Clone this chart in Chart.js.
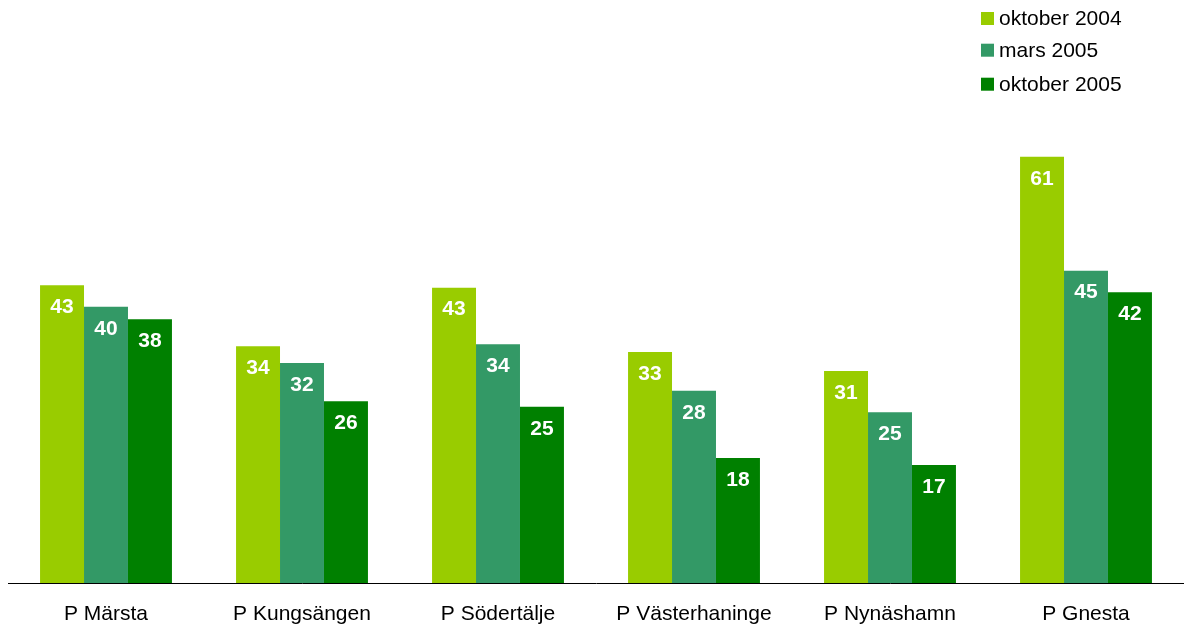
<!DOCTYPE html>
<html>
<head>
<meta charset="utf-8">
<script src="https://cdn.jsdelivr.net/npm/chart.js@4"></script>
<style>
  html, body { margin: 0; padding: 0; background: #ffffff; }
  #wrap { position: relative; width: 1184px; height: 628px; }
</style>
</head>
<body>
<div id="wrap"><canvas id="c" width="1184" height="628"></canvas></div>
<script>
const categories = ["P Märsta", "P Kungsängen", "P Södertälje", "P Västerhaninge", "P Nynäshamn", "P Gnesta"];
const seriesNames = ["oktober 2004", "mars 2005", "oktober 2005"];
const okt2004 = [42.9, 34.1, 42.55, 33.3, 30.55, 61.4];
const mars2005 = [39.8, 31.7, 34.4, 27.7, 24.6, 45.0];
const okt2005 = [38.0, 26.2, 25.4, 18.0, 17.0, 41.9];
const colors = ["#99CC00", "#339966", "#008000"];

const FONT = "'Liberation Sans', Arial, Helvetica, sans-serif";

const valueLabels = {
  id: "valueLabels",
  afterDatasetsDraw(chart) {
    const ctx = chart.ctx;
    ctx.save();
    ctx.fillStyle = "#ffffff";
    ctx.font = "bold 21px " + FONT;
    ctx.textAlign = "center";
    ctx.textBaseline = "middle";
    chart.data.datasets.forEach((ds, i) => {
      const meta = chart.getDatasetMeta(i);
      meta.data.forEach((bar, j) => {
        ctx.fillText(String(Math.round(ds.data[j])), bar.x, bar.y + 22);
      });
    });
    ctx.restore();
  }
};

const cornerLegend = {
  id: "cornerLegend",
  afterDraw(chart) {
    const ctx = chart.ctx;
    const rows = [18.5, 50.2, 84.2];
    ctx.save();
    ctx.font = "21px " + FONT;
    ctx.textAlign = "left";
    ctx.textBaseline = "middle";
    chart.data.datasets.forEach((ds, i) => {
      const cy = rows[i];
      ctx.fillStyle = ds.backgroundColor;
      ctx.fillRect(981, cy - 6.5, 13, 13);
      ctx.fillStyle = "#000000";
      ctx.fillText(ds.label, 999, cy + 1);
    });
    ctx.restore();
  }
};

new Chart(document.getElementById("c"), {
  type: "bar",
  data: {
    labels: categories,
    datasets: [
      { label: seriesNames[0], data: okt2004, backgroundColor: colors[0] },
      { label: seriesNames[1], data: mars2005, backgroundColor: colors[1] },
      { label: seriesNames[2], data: okt2005, backgroundColor: colors[2] }
    ]
  },
  options: {
    responsive: false,
    animation: false,
    devicePixelRatio: 1,
    layout: { padding: { left: 8, right: 0, top: 0, bottom: 0 } },
    datasets: { bar: { barPercentage: 1.0, categoryPercentage: 0.673, borderWidth: 0 } },
    plugins: { legend: { display: false }, tooltip: { enabled: false } },
    scales: {
      x: {
        grid: { display: false, drawTicks: false },
        border: { display: true, color: "#000000", width: 1 },
        ticks: { color: "#000000", font: { family: FONT, size: 21 }, padding: 19, maxRotation: 0, autoSkip: false },
        afterFit(scale) { scale.height = 45; }
      },
      y: {
        display: false,
        min: 0,
        max: 84
      }
    }
  },
  plugins: [valueLabels, cornerLegend]
});
</script>
</body>
</html>
